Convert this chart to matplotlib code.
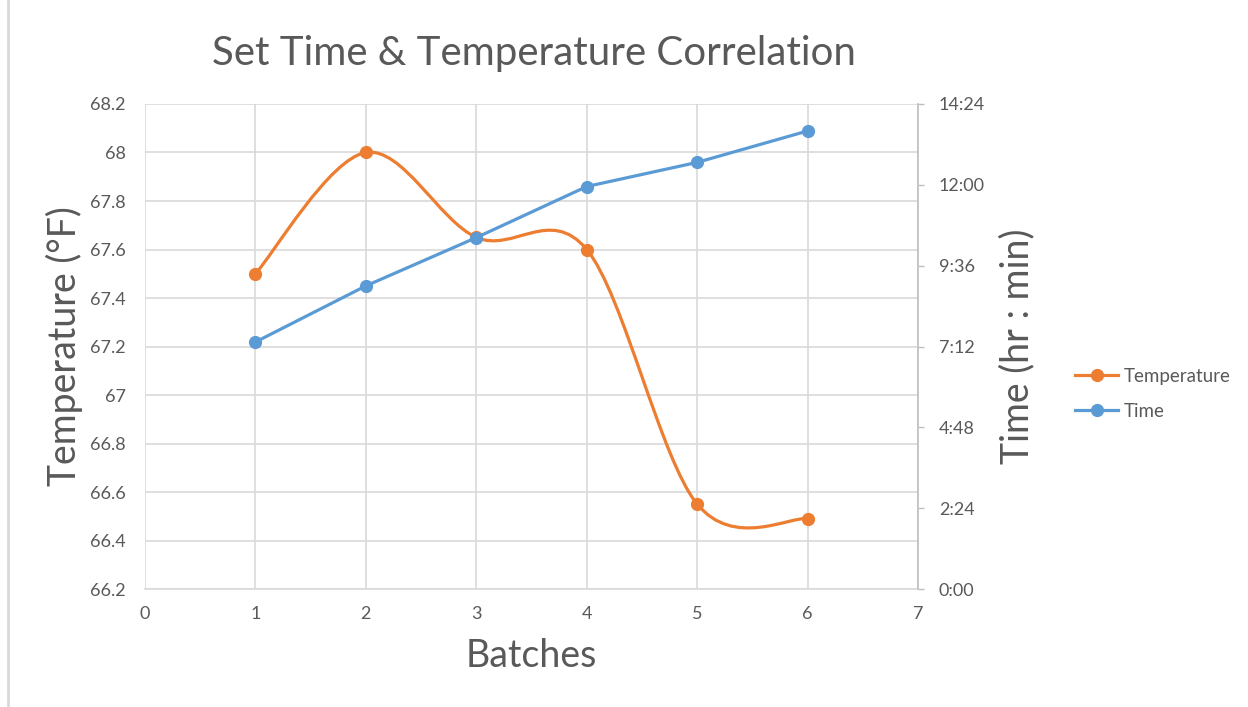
import matplotlib
matplotlib.use("Agg")
import matplotlib.pyplot as plt
from matplotlib.path import Path
from matplotlib.patches import PathPatch
from matplotlib.lines import Line2D
from matplotlib.ticker import MultipleLocator, FuncFormatter
import numpy as np

# ---------------------------------------------------------------
#  DATA
# ---------------------------------------------------------------
batches = [1, 2, 3, 4, 5, 6]
temperature = [67.5, 68.0, 67.65, 67.6, 66.55, 66.49]
set_time = ["7:20", "9:00", "10:26", "11:57", "12:40", "13:36"]

title_text = "Set Time & Temperature Correlation"
x_label = "Batches"
y_label_left = "Temperature (°F)"
y_label_right = "Time (hr : min)"

# ---------------------------------------------------------------
#  STYLE
# ---------------------------------------------------------------
orange = "#ED7D31"
blue = "#5B9BD5"
grid_col = "#D9D9D9"
text_col = "#595959"
plt.rcParams['font.family'] = ['Lato', 'DejaVu Sans']


def to_minutes(s):
    h, m = s.split(":")
    return int(h) * 60 + int(m)


def fmt_minutes(v, pos):
    v = int(round(v))
    return "%d:%02d" % (v // 60, v % 60)


def smooth_path(xs, ys):
    # Excel style smoothed line: cubic bezier segments through every point
    pts = np.column_stack([xs, ys]).astype(float)
    n = len(pts)
    verts = [pts[0]]
    codes = [Path.MOVETO]
    for i in range(n - 1):
        p0 = pts[max(i - 1, 0)]
        p1 = pts[i]
        p2 = pts[i + 1]
        p3 = pts[min(i + 2, n - 1)]
        c1 = p1 + (p2 - p0) / 6.0
        c2 = p2 - (p3 - p1) / 6.0
        verts += [c1, c2, p2]
        codes += [Path.CURVE4] * 3
    return Path(verts, codes)


time_min = [to_minutes(t) for t in set_time]

fig = plt.figure(figsize=(12.48, 7.07), dpi=100)
ax = fig.add_axes([0.1162, 0.1669, 0.6194, 0.686])
ax2 = ax.twinx()

# temperature (smoothed)
patch = PathPatch(smooth_path(batches, temperature), facecolor="none",
                  edgecolor=orange, linewidth=2.3, capstyle="round", zorder=3)
ax.add_patch(patch)
ax.plot(batches, temperature, linestyle="none", marker="o", markersize=8.5,
        color=orange, zorder=4)

# time (straight)
ax2.plot(batches, time_min, color=blue, linewidth=2.3, marker="o",
         markersize=8.5, zorder=4)

ax.set_xlim(0, 7)
ax.set_ylim(66.2, 68.2)
ax2.set_ylim(0, 864)
ax.xaxis.set_major_locator(MultipleLocator(1))
ax.yaxis.set_major_locator(MultipleLocator(0.2))
ax2.yaxis.set_major_locator(MultipleLocator(144))
ax.yaxis.set_major_formatter(FuncFormatter(lambda v, p: ("%.1f" % v).rstrip("0").rstrip(".")))
ax2.yaxis.set_major_formatter(FuncFormatter(fmt_minutes))

ax.grid(True, color=grid_col, linewidth=1.2)
ax.set_axisbelow(True)

for a in (ax, ax2):
    for s in a.spines.values():
        s.set_visible(False)
ax.spines["bottom"].set_visible(True)
ax.spines["bottom"].set_color(grid_col)
ax.spines["bottom"].set_linewidth(1.2)
ax2.spines["right"].set_visible(True)
ax2.spines["right"].set_color("#BFBFBF")
ax2.spines["right"].set_linewidth(1.2)

ax.tick_params(axis="both", length=0, labelsize=13, colors=text_col, pad=14)
ax.tick_params(axis="x", pad=12)
ax2.tick_params(axis="y", length=4, width=1.0, color="#BFBFBF", labelsize=13,
                labelcolor=text_col, pad=11)

ax.set_xlabel(x_label, fontsize=27, color=text_col, labelpad=12)
ax.set_ylabel(y_label_left, fontsize=27, color=text_col, labelpad=5)
ax2.set_ylabel(y_label_right, fontsize=27, color=text_col, labelpad=10)

fig.text(0.4275, 0.925, title_text, fontsize=29, color=text_col,
         ha="center", va="center")

handles = [Line2D([], [], color=orange, linewidth=2.3, marker="o", markersize=8.5),
           Line2D([], [], color=blue, linewidth=2.3, marker="o", markersize=8.5)]
leg = fig.legend(handles, ["Temperature", "Time"], loc="center left",
                 bbox_to_anchor=(0.848, 0.443), frameon=False, fontsize=13.5,
                 handlelength=2.3, handletextpad=0.3, labelspacing=0.95)
for t in leg.get_texts():
    t.set_color(text_col)

# left edge of the screenshot frame
fig.add_artist(Line2D([0.0068, 0.0068], [0, 1], color=grid_col, linewidth=2))

fig.savefig("out.png", dpi=100)
